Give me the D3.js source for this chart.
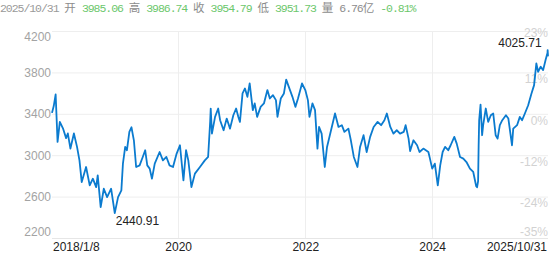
<!DOCTYPE html>
<html lang="zh">
<head>
<meta charset="UTF-8">
<title>上证指数</title>
<script src="https://cdn.jsdelivr.net/npm/d3@7"></script>
<style>
  body { margin: 0; background: #fff; }
  svg { display: block; }
</style>
</head>
<body>
<svg id="chart" width="556" height="253"></svg>
<script>
// closes
const dates = [
  "2018-01-08","2018-01-18","2018-01-29","2018-02-09","2018-02-22","2018-03-12","2018-03-30","2018-04-09",
  "2018-04-24","2018-05-14","2018-06-01","2018-06-15","2018-06-28","2018-07-23","2018-08-13","2018-08-31",
  "2018-09-19","2018-09-28","2018-10-15","2018-11-02","2018-11-21","2018-12-14","2019-01-04","2019-01-23",
  "2019-02-11","2019-02-20","2019-03-05","2019-03-15","2019-03-29","2019-04-10","2019-04-24","2019-05-07",
  "2019-05-27","2019-06-14","2019-06-28","2019-07-10","2019-07-24","2019-08-06","2019-08-22","2019-09-19",
  "2019-10-08","2019-10-28","2019-11-15","2019-12-05","2019-12-26","2020-01-14","2020-02-03","2020-02-18",
  "2020-03-02","2020-03-20","2020-04-09","2020-05-08","2020-06-05","2020-06-24","2020-07-06","2020-07-09",
  "2020-07-16","2020-08-03","2020-08-21","2020-09-01","2020-09-21","2020-10-09","2020-10-28","2020-11-16",
  "2020-12-02","2020-12-15","2020-12-24","2021-01-08","2021-01-22","2021-02-05","2021-02-18","2021-03-08",
  "2021-03-19","2021-04-02","2021-04-22","2021-05-11","2021-05-31","2021-06-14","2021-07-02","2021-07-19",
  "2021-07-28","2021-08-16","2021-09-03","2021-09-16","2021-10-08","2021-10-22","2021-11-08","2021-11-23",
  "2021-12-16","2022-01-04","2022-01-19","2022-01-28","2022-02-14","2022-03-01","2022-03-15","2022-03-24",
  "2022-04-08","2022-04-26","2022-05-09","2022-06-01","2022-06-24","2022-07-14","2022-08-02","2022-08-17",
  "2022-09-09","2022-09-23","2022-10-10","2022-10-31","2022-11-15","2022-12-05","2022-12-23","2023-01-12",
  "2023-02-01","2023-02-24","2023-03-16","2023-04-04","2023-04-18","2023-05-08","2023-05-26","2023-06-14",
  "2023-07-03","2023-07-24","2023-08-04","2023-08-21","2023-08-30","2023-09-18","2023-10-09","2023-10-23",
  "2023-11-14","2023-12-13","2023-12-22","2024-01-04","2024-01-19","2024-02-05","2024-02-19","2024-03-04",
  "2024-03-18","2024-04-05","2024-04-19","2024-05-10","2024-05-24","2024-06-12","2024-07-01","2024-07-19",
  "2024-08-08","2024-08-27","2024-09-13","2024-09-18","2024-09-24","2024-09-27","2024-09-30","2024-10-08",
  "2024-10-17","2024-10-23","2024-11-07","2024-11-21","2024-12-06","2024-12-20","2025-01-03","2025-01-14",
  "2025-01-27","2025-02-10","2025-03-03","2025-03-17","2025-04-07","2025-04-14","2025-05-06","2025-05-22",
  "2025-06-04","2025-06-20","2025-07-09","2025-07-28","2025-08-12","2025-08-25","2025-09-04","2025-09-19",
  "2025-10-03","2025-10-17","2025-10-28","2025-10-29","2025-10-30","2025-10-31"
];
const closes = [
  3409,3475,3587,3129,3322,3260,3165,3210,
  3064,3210,3080,2950,2740,2886,2708,2773,
  2692,2805,2498,2676,2595,2676,2440.91,2595,
  2660,2919,3080,3048,3225,3270,3144,2886,
  2902,2983,3048,2902,2870,2773,2919,3031,
  2950,2983,2902,2886,3016,3096,2757,3048,
  2950,2692,2822,2886,2950,2983,3330,3450,
  3209,3370,3451,3338,3241,3354,3257,3386,
  3451,3370,3322,3597,3645,3564,3693,3435,
  3500,3370,3467,3500,3629,3548,3580,3532,
  3370,3548,3597,3730,3629,3564,3467,3548,
  3693,3629,3532,3370,3500,3435,3064,3273,
  3209,2886,3080,3241,3403,3273,3290,3225,
  3257,3144,2983,2886,3080,3193,3031,3177,
  3273,3322,3290,3338,3403,3273,3209,3241,
  3209,3225,3290,3160,3040,3144,3096,3031,
  3064,3031,2967,2870,2919,2708,2902,3031,
  3080,3048,3096,3177,3112,2983,2967,2934,
  2870,2838,2700,2690,2750,3087,3336,3489,
  3193,3290,3451,3322,3386,3403,3193,3160,
  3290,3338,3386,3354,3096,3257,3290,3370,
  3338,3403,3483,3597,3677,3887,3806,3855,
  3822,3919,3988,4016,3986,3954.79
];

const yTicks = [2200, 2600, 3000, 3400, 3800, 4200];
const pctLabels = ["-35%", "-24%", "-12%", "0%", "11%", "23%"];
const yearTicks = ["2020-01-01", "2022-01-01", "2024-01-01"];
const yearLabels = ["2020", "2022", "2024"];
const firstLabel = "2018/1/8";
const lastLabel = "2025/10/31";
const lowPoint = { date: "2019-01-04", value: 2440.91 };
const highPoint = { date: "2025-10-29", value: 4025.71 };

// header quote: [text, kind]  kind: d=date, k=label, v=value
const quote = [
  ["2025/10/31", "d"], ["开", "k"], ["3985.06", "v"], ["高", "k"], ["3986.74", "v"],
  ["收", "k"], ["3954.79", "v"], ["低", "k"], ["3951.73", "v"], ["量", "k"],
  ["6.76", "k", true], ["亿", "k"], ["-0.81%", "v"]
];

const parse = d3.timeParse("%Y-%m-%d");
const data = dates.map((d, i) => ({ date: parse(d), close: closes[i] }));

const plotLeft = 52, plotRight = 548, plotTop = 31, plotBottom = 238;
const svg = d3.select("#chart");

const x = d3.scaleTime()
  .domain([data[0].date, data[data.length - 1].date])
  .range([plotLeft, plotRight]);
const y = d3.scaleLinear().domain([2200, 4200]).range([plotBottom, plotTop]);

// grid
svg.append("g").selectAll("line").data(yTicks).join("line")
  .attr("x1", plotLeft).attr("x2", plotRight)
  .attr("y1", d => y(d) + 0.5).attr("y2", d => y(d) + 0.5)
  .attr("stroke", (d, i) => i === 0 ? "#e6e6e6" : "#eeeeee");
svg.append("g").selectAll("line").data(yearTicks).join("line")
  .attr("x1", d => Math.round(x(parse(d))) + 0.5).attr("x2", d => Math.round(x(parse(d))) + 0.5)
  .attr("y1", plotTop).attr("y2", plotBottom)
  .attr("stroke", "#eeeeee");

const axisFont = "'Liberation Sans', Arial, sans-serif";

// left value labels
svg.append("g").selectAll("text").data(yTicks).join("text")
  .attr("x", plotLeft - 1)
  .attr("y", (d, i) => i === 0 ? y(d) - 2 : (i === yTicks.length - 1 ? y(d) + 10 : y(d) + 4.3))
  .attr("text-anchor", "end")
  .attr("font-family", axisFont).attr("font-size", 12)
  .attr("fill", "#a3a3a3")
  .text(d => d);

// right percent labels
svg.append("g").selectAll("text").data(yTicks).join("text")
  .attr("x", plotRight)
  .attr("y", (d, i) => i === 0 ? y(d) - 2 : (i === yTicks.length - 1 ? y(d) + 6 : y(d) + 10.8))
  .attr("text-anchor", "end")
  .attr("font-family", axisFont).attr("font-size", 12)
  .attr("fill", "#d2d2d2")
  .text((d, i) => pctLabels[i]);

// bottom labels
const xl = svg.append("g").attr("font-family", axisFont).attr("font-size", 12).attr("fill", "#222");
xl.append("text").attr("x", x(data[0].date) + 1).attr("y", 251).text(firstLabel);
xl.selectAll("text.yr").data(yearTicks).join("text").attr("class", "yr")
  .attr("x", d => x(parse(d)) + 1).attr("y", 251)
  .attr("text-anchor", "middle")
  .text((d, i) => yearLabels[i]);
xl.append("text").attr("x", x(data[data.length - 1].date) - 1).attr("y", 251)
  .attr("text-anchor", "end").text(lastLabel);

// price line
const line = d3.line().x(d => x(d.date)).y(d => y(d.close));
svg.append("path").datum(data)
  .attr("d", line)
  .attr("fill", "none")
  .attr("stroke", "#0b7bcf")
  .attr("stroke-width", 1.8)
  .attr("stroke-linejoin", "round");

// min / max labels
svg.append("text")
  .attr("x", x(parse(lowPoint.date)) + 1)
  .attr("y", y(lowPoint.value) + 12)
  .attr("font-family", axisFont).attr("font-size", 12).attr("fill", "#222")
  .text(lowPoint.value.toFixed(2));
svg.append("text")
  .attr("x", x(parse(highPoint.date)) - 6)
  .attr("y", y(highPoint.value) - 2.5)
  .attr("text-anchor", "end")
  .attr("font-family", axisFont).attr("font-size", 12).attr("fill", "#222")
  .text(highPoint.value.toFixed(2));

// header quote line
const unit = 5.85;
let pos = 0;
const head = svg.append("g");
quote.forEach(q => {
  const txt = q[0], kind = q[1];
  const cjk = /[\u4e00-\u9fff]/.test(txt);
  const t = head.append("text")
    .attr("x", pos * unit)
    .attr("y", 11.5)
    .attr("fill", kind === "v" ? "#6cc76c" : (kind === "d" ? "#9a9a9a" : "#8c8c8c"))
    .text(txt);
  if (cjk) {
    t.attr("font-family", "'Noto Sans CJK SC', sans-serif").attr("font-size", 11.5);
  } else {
    t.attr("font-family", "'Liberation Mono', monospace").attr("font-size", 11.5)
      .attr("letter-spacing", unit - 11.5 * 0.6);
  }
  const w = Array.from(txt).reduce((s, c) => s + (/[\u4e00-\u9fff]/.test(c) ? 2 : 1), 0);
  pos += w + (q[2] ? 0 : 1);
});
</script>
</body>
</html>
